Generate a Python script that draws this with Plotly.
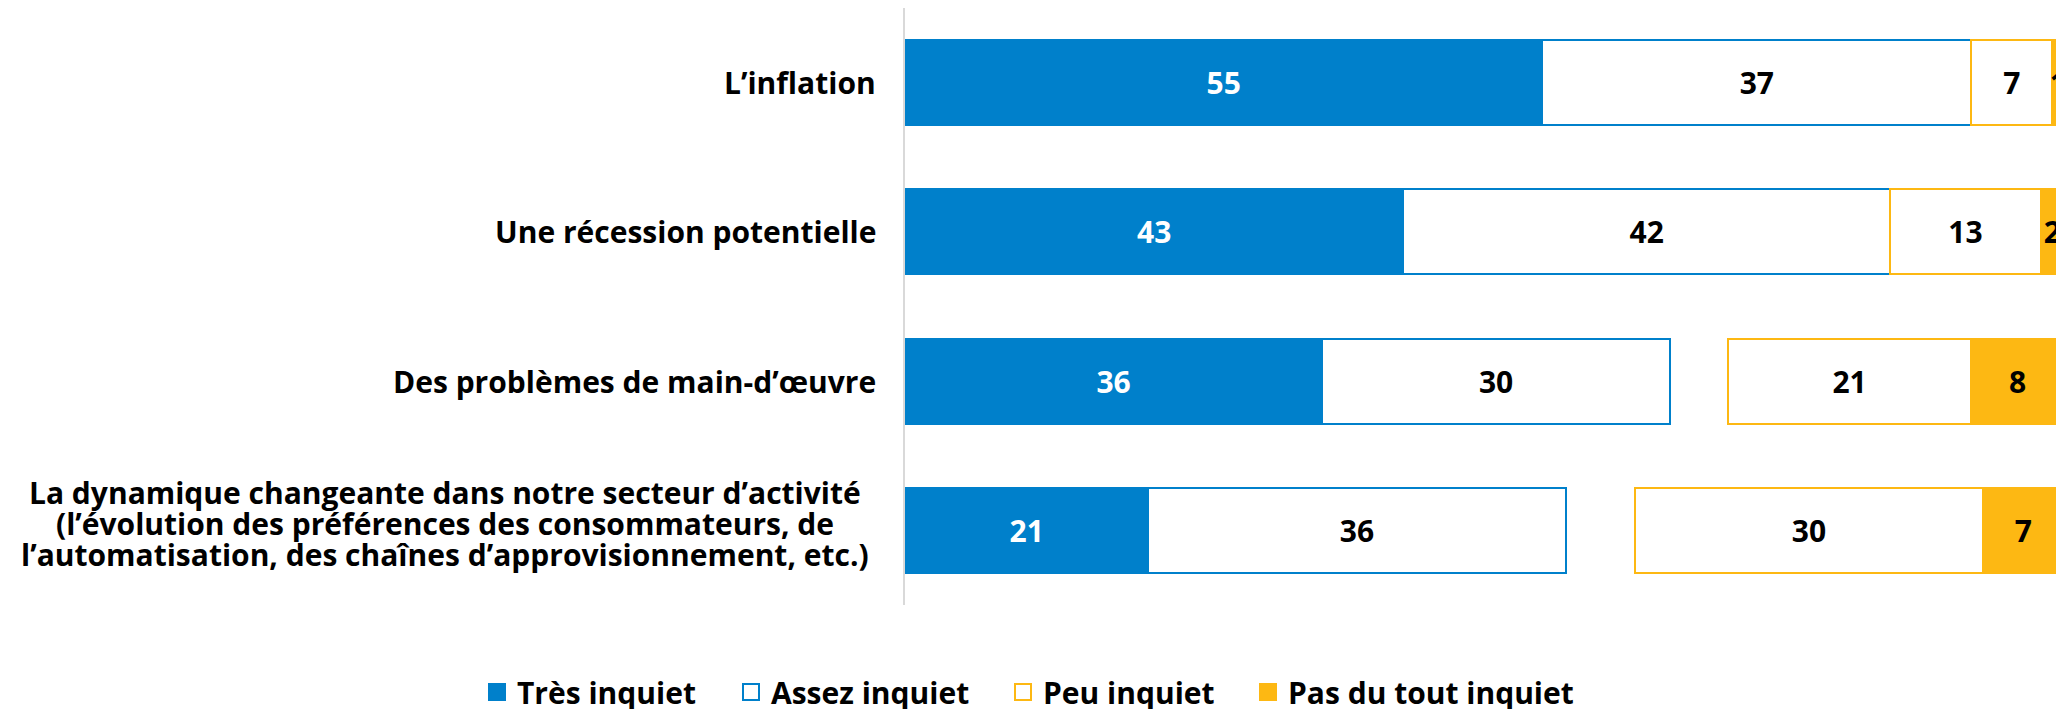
import plotly.graph_objects as go

categories = [
    "L’inflation",
    "Une récession potentielle",
    "Des problèmes de main-d’œuvre",
    "La dynamique changeante dans notre secteur d’activité<br>(l’évolution des préférences des consommateurs, de<br>l’automatisation, des chaînes d’approvisionnement, etc.)",
]
series_names = ["Très inquiet", "Assez inquiet", "Peu inquiet", "Pas du tout inquiet"]
tres = [55, 43, 36, 21]
assez = [37, 42, 30, 36]
peu = [7, 13, 21, 30]
pas = [1, 2, 8, 7]

# remainder (non-response) shown as an invisible gap between the two groups
gap = [100 - (a + b + c + d) for a, b, c, d in zip(tres, assez, peu, pas)]

BLUE = "#0080CB"
GOLD = "#FDB813"
FONT = "Open Sans"
W, H = 2064, 709
BODY = 8  # default page margin of the html body

fig = go.Figure()


def add_bar(name, vals, fill, line, textcolor, text=True):
    fig.add_trace(go.Bar(
        name=name,
        y=categories,
        x=vals,
        orientation="h",
        marker=dict(color=fill, line=dict(color=line, width=2)),
        text=vals if text else None,
        texttemplate="%{x}" if text else None,
        textposition="inside" if text else "none",
        insidetextanchor="middle",
        textangle=0,
        constraintext="none",
        insidetextfont=dict(family=FONT, size=30, color=textcolor, weight="bold"),
        showlegend=False,
        hoverinfo="skip" if not text else None,
    ))


add_bar(series_names[0], tres, BLUE, BLUE, "white")
add_bar(series_names[1], assez, "white", BLUE, "black")
add_bar("gap", gap, "rgba(0,0,0,0)", "rgba(0,0,0,0)", "black", text=False)
add_bar(series_names[2], peu, "white", GOLD, "black")
add_bar(series_names[3], pas, GOLD, GOLD, "black")

# legend entries (square swatches, one legend block per series)
legend_styles = [(BLUE, BLUE), ("white", BLUE), ("white", GOLD), (GOLD, GOLD)]
for k, (name, (fill, line)) in enumerate(zip(series_names, legend_styles)):
    fig.add_trace(go.Scatter(
        name=name, x=[None], y=[None], mode="markers",
        marker=dict(symbol="square", size=16, color=fill, line=dict(color=line, width=2)),
        showlegend=True, legend="legend" if k == 0 else f"legend{k + 1}",
        hoverinfo="skip",
    ))

# category labels (centered multi-line blocks, tight line pitch)
annotations = []
PITCH = 31
for cat in categories:
    lines = cat.split("<br>")
    n = len(lines)
    for i, ln in enumerate(lines):
        if n == 1:
            annotations.append(dict(
                text=ln, xref="paper", yref="y", x=0, y=cat,
                xanchor="right", yanchor="middle", xshift=-27, yshift=0,
                showarrow=False,
                font=dict(family=FONT, size=30, color="black", weight="bold"),
            ))
        else:
            annotations.append(dict(
                text=ln, xref="paper", yref="y", x=0, y=cat,
                xanchor="center", yanchor="middle", xshift=-460,
                yshift=7 + ((n - 1) / 2 - i) * PITCH,
                showarrow=False,
                font=dict(family=FONT, size=30, color="black", weight="bold"),
            ))

legend_font = dict(family=FONT, size=30, color="black", weight="bold")
legend_left = [477, 731, 1003, 1248]  # page x of each legend block
legend_y = (H - (684)) / H


def leg(x):
    return dict(
        orientation="h", xref="container", yref="container",
        x=(x - BODY) / W, y=legend_y, xanchor="left", yanchor="middle",
        font=legend_font, bgcolor="rgba(0,0,0,0)", itemsizing="trace",
    )


fig.update_layout(
    width=W,
    height=H,
    barmode="stack",
    bargap=0.43,
    plot_bgcolor="white",
    paper_bgcolor="white",
    margin=dict(l=905 - BODY, r=BODY, t=0, b=H - (605 - BODY), autoexpand=False),
    xaxis=dict(range=[0, 100], visible=False, fixedrange=True),
    yaxis=dict(
        autorange="reversed",
        showticklabels=False,
        showgrid=False,
        zeroline=False,
        showline=True,
        linecolor="#D9D9D9",
        linewidth=2,
        ticks="",
    ),
    legend=leg(legend_left[0]),
    legend2=leg(legend_left[1]),
    legend3=leg(legend_left[2]),
    legend4=leg(legend_left[3]),
    annotations=annotations,
    font=dict(family=FONT),
    showlegend=True,
)

fig.write_html("out.html")
